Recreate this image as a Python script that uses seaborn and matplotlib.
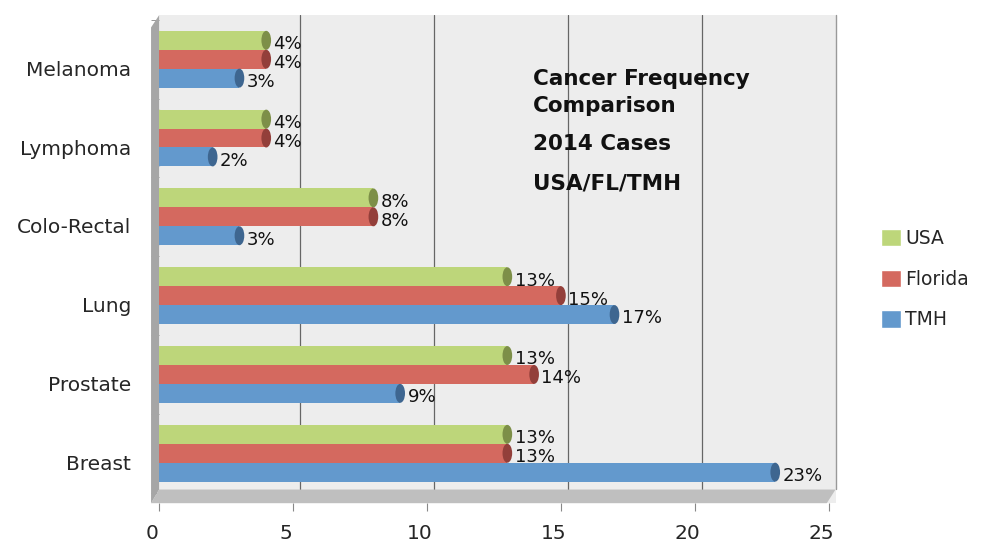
import numpy as np
import pandas as pd
import matplotlib
matplotlib.use("Agg")
import matplotlib.pyplot as plt
import matplotlib.transforms as mtransforms
from matplotlib.patches import Ellipse, Rectangle, Polygon
import seaborn as sns

# data (percent of 2014 cases)
cancers = ["Melanoma", "Lymphoma", "Colo-Rectal", "Lung", "Prostate", "Breast"]
usa = [4, 4, 8, 13, 13, 13]
florida = [4, 4, 8, 15, 14, 13]
tmh = [3, 2, 3, 17, 9, 23]
series = ["USA", "Florida", "TMH"]

colors = {"USA": "#bdd67a", "Florida": "#d4695f", "TMH": "#6399cd"}
caps = {"USA": "#7d8f48", "Florida": "#933f3a", "TMH": "#3e6690"}

df = pd.DataFrame({"Cancer": cancers * 3,
                   "Group": ["USA"] * 6 + ["Florida"] * 6 + ["TMH"] * 6,
                   "Value": usa + florida + tmh})

sns.set_style("white")
plt.rcParams["font.family"] = ["DejaVu Sans"]

fig = plt.figure(figsize=(9.82, 5.44), dpi=100)
ax = fig.add_axes([0.162, 0.075, 0.682, 0.897])
ax.set_facecolor("#ededed")

sns.barplot(data=df, y="Cancer", x="Value", hue="Group", order=cancers,
            hue_order=series, palette=colors, orient="h", width=0.72,
            saturation=1, ax=ax, legend=False, zorder=3,
            edgecolor="none", linewidth=0)

ax.set_xlim(0, 25)
ax.set_ylim(5.634, -0.558)

# back wall continues a few pixels past the axes on the right (3d depth)
ax.add_patch(Rectangle((0.999, 0.0), 0.012, 1.0, transform=ax.transAxes,
                       facecolor="#ededed", edgecolor="none", clip_on=False,
                       zorder=0.5))
back = ax.transData + mtransforms.ScaledTranslation(7 / 100, 0, fig.dpi_scale_trans)
for gx in [5, 10, 15, 20]:
    ax.plot([gx, gx], [5.634, -0.558], color="#666666", lw=0.9, zorder=1,
            transform=back)
ax.plot([25, 25], [5.45, -0.558], color="#999999", lw=1, zorder=1,
        transform=back, clip_on=False)

# cylinder ends and value labels, taken from the drawn bars
cap_w = 0.36
for i, name in enumerate(series):
    cont = ax.containers[i]
    for bar, val in zip(cont.patches, df[df.Group == name].Value):
        y0 = bar.get_y()
        h = bar.get_height()
        w = bar.get_width()
        cy = y0 + h / 2
        ax.add_patch(Ellipse((0, cy), cap_w, h, facecolor=colors[name],
                             edgecolor="none", zorder=2.9))
        ax.add_patch(Ellipse((w, cy), cap_w, h, facecolor=caps[name],
                             edgecolor="none", zorder=4))
        ax.text(w + 0.27, cy + 0.05, f"{val}%", va="center", ha="left",
                fontsize=13, color="#111111", zorder=5)

# floor and left wall, 3d look
ax.add_patch(Polygon([(-0.012, 0.0), (0.997, 0.0), (1.01, 0.028), (0.0, 0.028)],
                     closed=True, transform=ax.transAxes, facecolor="#bfbfbf",
                     edgecolor="none", clip_on=False, zorder=2))
ax.add_patch(Polygon([(-0.012, 0.0), (0.0, 0.028), (0.0, 1.0), (-0.012, 0.975)],
                     closed=True, transform=ax.transAxes, facecolor="#a6a6a6",
                     edgecolor="none", clip_on=False, zorder=2))

for s in ["top", "left", "bottom", "right"]:
    ax.spines[s].set_visible(False)

ax.set_xticks([0, 5, 10, 15, 20, 25])
ax.set_xticklabels(["0", "5", "10", "15", "20", "25"], fontsize=14.5)
ax.tick_params(axis="x", length=6, color="#888888", pad=9, bottom=True)
shift_x = mtransforms.ScaledTranslation(-7 / 100, 0, fig.dpi_scale_trans)
for lab in ax.get_xticklabels():
    lab.set_transform(lab.get_transform() + shift_x)

ax.set_yticks(range(len(cancers)))
ax.set_yticklabels(cancers, fontsize=14.5)
ax.set_yticks(np.arange(-0.5, 6, 1), minor=True)
ax.tick_params(axis="y", which="major", length=0, pad=20)
ax.tick_params(axis="y", which="minor", length=6, color="#888888", left=True)
shift_y = mtransforms.ScaledTranslation(0, -9 / 100, fig.dpi_scale_trans)
for lab in ax.get_yticklabels():
    lab.set_transform(lab.get_transform() + shift_y)
ax.set_xlabel("")
ax.set_ylabel("")

# title text block inside the plot
title_kw = dict(transform=ax.transAxes, fontsize=15.5, fontweight="bold",
                va="center", ha="left", color="#111111")
ax.text(0.558, 0.870, "Cancer Frequency", **title_kw)
ax.text(0.558, 0.814, "Comparison", **title_kw)
ax.text(0.558, 0.737, "2014 Cases", **title_kw)
ax.text(0.558, 0.655, "USA/FL/TMH", **title_kw)

handles = [Rectangle((0, 0), 1, 1, facecolor=colors[s]) for s in series]
fig.legend(handles, series, loc="upper left", bbox_to_anchor=(0.88, 0.61),
           frameon=False, fontsize=13.5, handlelength=1.05, handleheight=1.05,
           handletextpad=0.25, labelspacing=1.15)

fig.savefig("out.png", dpi=100)
